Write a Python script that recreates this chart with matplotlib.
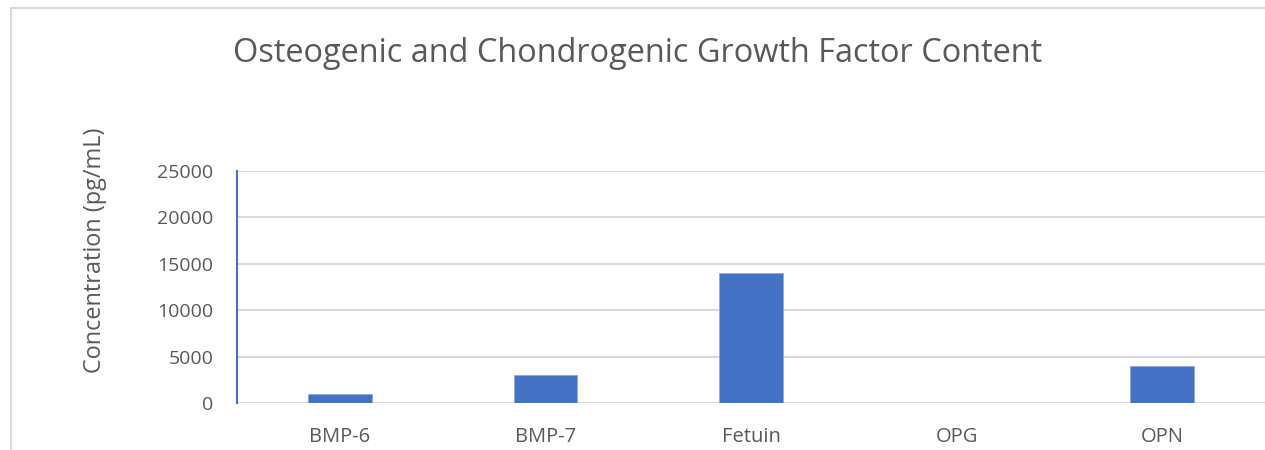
import matplotlib
matplotlib.use("Agg")
import matplotlib.pyplot as plt
from matplotlib.patches import Rectangle

categories = ["BMP-6", "BMP-7", "Fetuin", "OPG", "OPN"]
values = [1000, 3000, 14000, 0, 4000]
yticks = [0, 5000, 10000, 15000, 20000, 25000]

W, H = 1265, 450
plt.rcParams['font.family'] = ['Open Sans', 'DejaVu Sans']
fig = plt.figure(figsize=(W/100, H/100), dpi=100)

# chart border
fig.patches.append(Rectangle((11/W, -0.1), 1.2, 1 - 8/H + 0.1, transform=fig.transFigure,
                             fill=False, edgecolor='#d9d9d9', linewidth=1.5))

ax = fig.add_axes([237/W, 1 - 403/H, (1265 - 237)/W, (403 - 171)/H])
x = list(range(len(categories)))
ax.bar(x, values, width=0.31, color='#4472c4', edgecolor='#8eaadb', linewidth=0.6, zorder=3)
ax.set_xlim(-0.5, len(categories) - 0.5)
ax.set_ylim(0, 25000)
ax.set_yticks(yticks)
ax.set_yticklabels([str(v) for v in yticks])
ax.set_xticks(x)
ax.set_xticklabels(categories)
ax.grid(axis='y', color='#d9d9d9', linewidth=1.5, zorder=0)
for s in ['top', 'right', 'bottom']:
    ax.spines[s].set_visible(False)
ax.spines['left'].set_color('#4472c4')
ax.spines['left'].set_linewidth(1.5)
ax.tick_params(axis='both', length=0, colors='#595959', labelsize=14)
ax.tick_params(axis='x', labelsize=14.5)
ax.tick_params(axis='y', pad=17)
ax.tick_params(axis='x', pad=17.5)

fig.text(638/W, 1 - 53/H, "Osteogenic and Chondrogenic Growth Factor Content",
         ha='center', va='center', fontsize=23.4, color='#595959')
fig.text(95/W, 1 - 250/H, "Concentration (pg/mL)", rotation=90,
         ha='center', va='center', fontsize=16.9, color='#595959')

fig.savefig("out.png", dpi=100)
